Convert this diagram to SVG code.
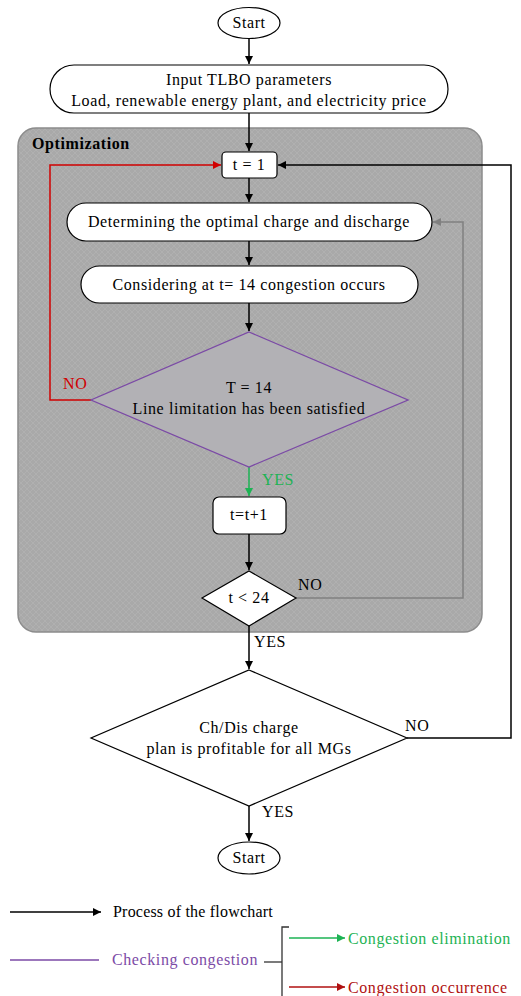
<svg xmlns="http://www.w3.org/2000/svg" width="521" height="996" viewBox="0 0 521 996">
<defs>
<style>
text{font-family:"Liberation Serif","Times New Roman",serif;font-size:16px;letter-spacing:0.6px;fill:#000}
.c{text-anchor:middle}
.box{fill:#fff;stroke:#000;stroke-width:1.2}
.ln{fill:none;stroke:#000;stroke-width:1.5}
</style>
<pattern id="hatch" width="6" height="6" patternUnits="userSpaceOnUse">
<rect width="6" height="6" fill="#a9a9a9"/>
<path d="M0,0 L6,6 M6,0 L0,6" stroke="#b3b3b3" stroke-width="0.8"/>
</pattern>
<marker id="ab" viewBox="0 0 10 10" refX="10" refY="5" markerWidth="8" markerHeight="8" markerUnits="userSpaceOnUse" orient="auto"><path d="M0,0 L10,5 L0,10 z" fill="#000"/></marker>
<marker id="ar" viewBox="0 0 10 10" refX="10" refY="5" markerWidth="8" markerHeight="8" markerUnits="userSpaceOnUse" orient="auto"><path d="M0,0 L10,5 L0,10 z" fill="#d00000"/></marker>
<marker id="ag" viewBox="0 0 10 10" refX="10" refY="5" markerWidth="8" markerHeight="8" markerUnits="userSpaceOnUse" orient="auto"><path d="M0,0 L10,5 L0,10 z" fill="#1db354"/></marker>
<marker id="agr" viewBox="0 0 10 10" refX="10" refY="5" markerWidth="8" markerHeight="8" markerUnits="userSpaceOnUse" orient="auto"><path d="M0,0 L10,5 L0,10 z" fill="#808080"/></marker>
<marker id="adr" viewBox="0 0 10 10" refX="10" refY="5" markerWidth="8" markerHeight="8" markerUnits="userSpaceOnUse" orient="auto"><path d="M0,0 L10,5 L0,10 z" fill="#b01010"/></marker>
</defs>
<rect width="521" height="996" fill="#fff"/>

<g id="optimization">
<rect x="18" y="128" width="464" height="504" rx="18" fill="url(#hatch)" stroke="#8c8c8c" stroke-width="1.5"/>
<text x="32" y="149" style="font-weight:bold">Optimization</text>
</g>

<g id="connectors">
<line class="ln" x1="249" y1="38" x2="249" y2="64" marker-end="url(#ab)"/>
<line class="ln" x1="249" y1="113" x2="249" y2="151" marker-end="url(#ab)"/>
<line class="ln" x1="249" y1="178" x2="249" y2="202" marker-end="url(#ab)"/>
<line class="ln" x1="249" y1="241" x2="249" y2="265" marker-end="url(#ab)"/>
<line class="ln" x1="249" y1="303" x2="249" y2="331" marker-end="url(#ab)"/>
<polyline points="91,400 50,400 50,165 221,165" fill="none" stroke="#d00000" stroke-width="1.5" marker-end="url(#ar)"/>
<line x1="249" y1="467" x2="249" y2="496" stroke="#1db354" stroke-width="1.5" marker-end="url(#ag)"/>
<line class="ln" x1="249" y1="534" x2="249" y2="570" marker-end="url(#ab)"/>
<polyline points="296,598 463,598 463,222 433,222" fill="none" stroke="#808080" stroke-width="1.5" marker-end="url(#agr)"/>
<line class="ln" x1="249" y1="626" x2="249" y2="669" marker-end="url(#ab)"/>
<polyline class="ln" points="407,738 511,738 511,165 278,165" marker-end="url(#ab)"/>
<line class="ln" x1="249" y1="806" x2="249" y2="841" marker-end="url(#ab)"/>
<text x="63" y="389" style="fill:#d00000">NO</text>
<text x="262" y="485" style="fill:#1db354">YES</text>
<text x="298" y="590">NO</text>
<text x="254" y="647">YES</text>
<text x="405" y="731">NO</text>
<text x="262" y="817">YES</text>
</g>

<g id="start">
<ellipse cx="249" cy="23" rx="31" ry="15.5" class="box"/>
<text x="249" y="28" class="c">Start</text>
</g>

<g id="input">
<rect x="50" y="65" width="398" height="48" rx="24" class="box"/>
<text x="249" y="85" class="c">Input TLBO parameters</text>
<text x="249" y="106" class="c">Load, renewable energy plant, and electricity price</text>
</g>

<g id="t1">
<rect x="222" y="152" width="55" height="26" rx="4" class="box"/>
<text x="249" y="170" class="c">t = 1</text>
</g>

<g id="determining">
<rect x="67" y="203" width="365" height="38" rx="19" class="box"/>
<text x="249" y="227" class="c">Determining the optimal charge and discharge</text>
</g>

<g id="considering">
<rect x="81" y="266" width="337" height="37" rx="18.5" class="box"/>
<text x="249" y="290" class="c">Considering at t= 14 congestion occurs</text>
</g>

<g id="check14">
<polygon points="249,332 408,400 249,467 91,400" fill="#b2b1b5" stroke="#7b4aa6" stroke-width="1.3"/>
<text x="249" y="393" class="c">T = 14</text>
<text x="249" y="414" class="c">Line limitation has been satisfied</text>
</g>

<g id="increment">
<rect x="213" y="497" width="73" height="37" rx="6" class="box"/>
<text x="249" y="520" class="c">t=t+1</text>
</g>

<g id="check24">
<polygon points="249,571 296,598 249,626 202,598" class="box"/>
<text x="249" y="603" class="c">t &lt; 24</text>
</g>

<g id="profit">
<polygon points="249,670 407,738 249,806 91,738" class="box"/>
<text x="249" y="733" class="c">Ch/Dis charge</text>
<text x="249" y="754" class="c">plan is profitable for all MGs</text>
</g>

<g id="end">
<ellipse cx="249" cy="858" rx="31" ry="16" class="box"/>
<text x="249" y="863" class="c">Start</text>
</g>

<g id="legend">
<line x1="10" y1="912" x2="101" y2="912" stroke="#000" stroke-width="1.5" marker-end="url(#ab)"/>
<text x="113" y="917" style="letter-spacing:0.2px">Process of the flowchart</text>
<line x1="10" y1="960" x2="99" y2="960" stroke="#7b4aa6" stroke-width="1.5"/>
<text x="112" y="965" style="fill:#7b4aa6">Checking congestion</text>
<polyline points="264,962 282,962" fill="none" stroke="#333" stroke-width="1.3"/>
<polyline points="289,927 282,927 282,996" fill="none" stroke="#333" stroke-width="1.3"/>
<line x1="289" y1="938" x2="345" y2="938" stroke="#1db354" stroke-width="1.5" marker-end="url(#ag)"/>
<text x="348" y="944" style="fill:#1db354">Congestion elimination</text>
<line x1="289" y1="987" x2="345" y2="987" stroke="#b01010" stroke-width="1.5" marker-end="url(#adr)"/>
<text x="348" y="993" style="fill:#b01010">Congestion occurrence</text>
</g>
</svg>
